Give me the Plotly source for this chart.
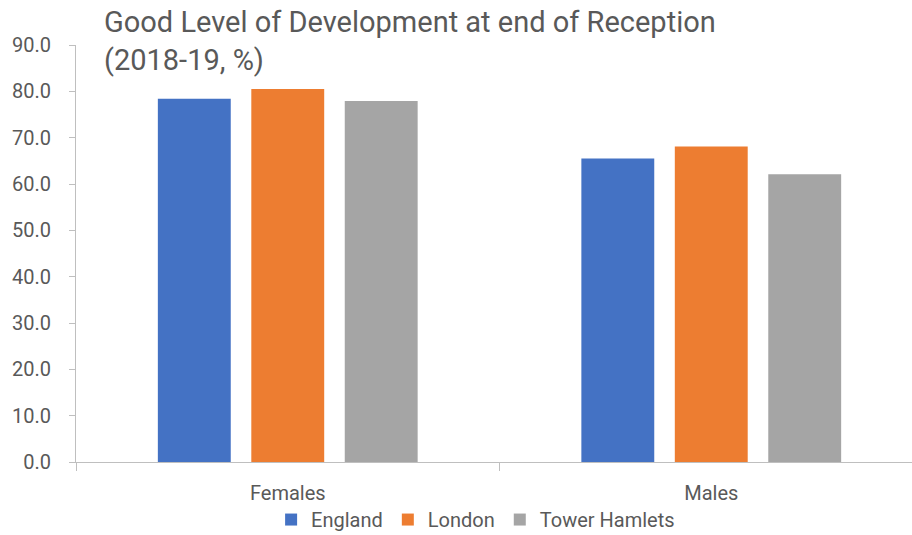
import plotly.graph_objects as go

categories = ["Females", "Males"]
series_names = ["England", "London", "Tower Hamlets"]
england = [78.4, 65.5]
london = [80.5, 68.1]
tower_hamlets = [77.9, 62.1]
colors = ["#4472C4", "#ED7D31", "#A5A5A5"]
title_text = "Good Level of Development at end of Reception<br>(2018-19, %)"

FONT = "Roboto, sans-serif"
GREY = "#595959"

fig = go.Figure()
for name, vals, col in zip(series_names, [england, london, tower_hamlets], colors):
    fig.add_trace(go.Bar(name=name, x=categories, y=vals, marker_color=col,
                         marker_line_width=0))

fig.update_layout(
    width=912, height=535,
    margin=dict(l=76, r=0, t=45, b=73, autoexpand=False),
    paper_bgcolor="white", plot_bgcolor="white",
    barmode="group", bargap=0.338, bargroupgap=0.22,
    font=dict(family=FONT, color=GREY, size=18),
    showlegend=True,
    legend=dict(orientation="h", x=0.478, xanchor="center", y=-0.138, yanchor="middle",
                font=dict(size=20, color=GREY), itemwidth=30, traceorder="normal"),
    annotations=[dict(text=title_text, xref="paper", yref="paper", x=0.031, y=1.1,
                      xanchor="left", yanchor="top", align="left", showarrow=False,
                      font=dict(size=29, color=GREY, family=FONT))],
)
fig.update_yaxes(range=[0, 90], dtick=10, tickformat=".1f", showgrid=False,
                 showline=True, linecolor="#BFBFBF", linewidth=1,
                 ticks="outside", ticklen=6, tickcolor="#BFBFBF",
                 ticklabelstandoff=14, automargin=False,
                 tickfont=dict(size=20, color=GREY), zeroline=False)
fig.update_xaxes(range=[-0.5, 1.474], showline=True, linecolor="#BFBFBF", linewidth=1,
                 ticks="outside", tickson="boundaries", ticklen=8, tickcolor="#BFBFBF",
                 ticklabelstandoff=13, automargin=False,
                 tickfont=dict(size=20, color=GREY), showgrid=False)

fig.write_html("out.html", config={"displayModeBar": False},
               post_script="document.body.style.margin='0';document.body.style.overflow='hidden';")
